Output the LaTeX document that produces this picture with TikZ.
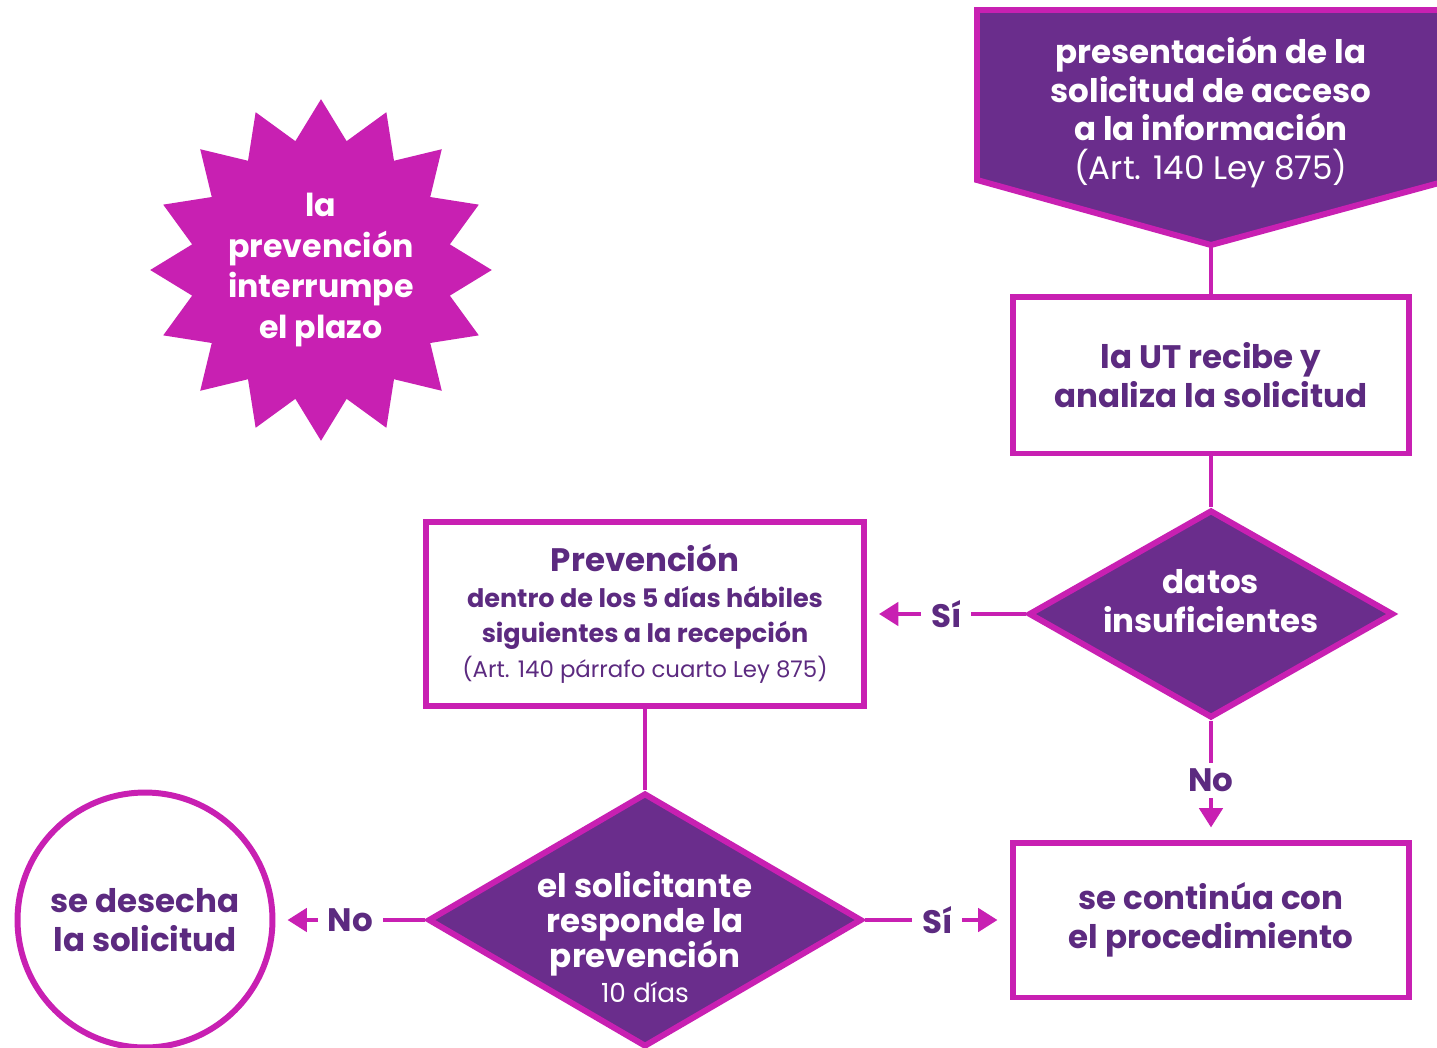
\documentclass[tikz,border=0pt]{standalone}
\usepackage{fontspec}
\setmainfont{Poppins}
\usetikzlibrary{shapes.geometric,arrows.meta,positioning}

\definecolor{flowMagenta}{RGB}{200,32,178}
\definecolor{flowPurple}{RGB}{106,45,140}
\definecolor{flowText}{RGB}{92,42,128}

\newcommand{\bigtxt}{\bfseries\fontsize{18.5}{22}\selectfont}
\newcommand{\midtxt}{\bfseries\fontsize{14.5}{19}\selectfont}
\newcommand{\smalltxt}{\mdseries\fontsize{13}{18}\selectfont}

\tikzset{
  box/.style={rectangle, draw=flowMagenta, line width=3.4pt, fill=white,
    text=flowText, font=\bigtxt, align=center, inner sep=0pt},
  decision/.style={diamond, draw=flowMagenta, line width=3.4pt, fill=flowPurple, inner sep=0pt},
  decisiontext/.style={text=white, font=\bigtxt, align=center, inner sep=0pt},
  conn/.style={draw=flowMagenta, line width=2.8pt},
  arrow/.style={conn, -{Triangle[length=11pt,width=13pt]}, shorten >=0.24cm},
  answer/.style={fill=white, text=flowText, font=\bigtxt, inner xsep=0.2cm, inner ysep=0.12cm}
}

\begin{document}
\begin{tikzpicture}[x=0.02cm, y=-0.02cm]
\useasboundingbox (0,0) rectangle (1437,1048);

% start
\draw[fill=flowPurple, draw=flowMagenta, line width=3.4pt]
  (977,10) -- (1450,10) -- (1450,180) -- (1211,245) -- (977,180) -- cycle;
\node[text=white, font=\bigtxt, align=center] (pres) at (1211,112)
  {presentación de la\\solicitud de acceso\\a la información\\{\mdseries (Art. 140 Ley 875)}};
\coordinate (presTip) at (1211,245);

% star
\node[star, star points=16, star point ratio=1.3, minimum size=6.8cm, inner sep=0pt,
  fill=flowMagenta, text=white, font=\bfseries\fontsize{18}{23}\selectfont, align=center] (plazo) at (321,270)
  {la\\prevención\\interrumpe\\el plazo};

% flow
\node[box, minimum width=7.94cm, minimum height=3.14cm] (ut) at (1211,375)
  {la UT recibe y\\analiza la solicitud};
\node[decision, minimum width=7.3cm, minimum height=4.16cm] (datos) at (1211,614) {};
\node[decisiontext] (datosTxt) at (1211,601) {datos\\insuficientes};
\node[box, minimum width=8.76cm, minimum height=3.68cm] (prev) at (645,614)
  {Prevención\\[-2pt]{\midtxt dentro de los 5 días hábiles}\\[-2pt]{\midtxt siguientes a la recepción}\\[-2pt]{\smalltxt (Art. 140 párrafo cuarto Ley 875)}};
\node[decision, minimum width=8.68cm, minimum height=5.08cm] (responde) at (645,920) {};
\node[decisiontext] (respondeTxt) at (645,937)
  {el solicitante\\[-2pt]responde la\\[-2pt]prevención\\[-2pt]{\mdseries\fontsize{15}{18}\selectfont 10 días}};
\node[circle, draw=flowMagenta, line width=3.4pt, minimum size=5.1cm, inner sep=0pt,
  text=flowText, font=\bigtxt, align=center] (desecha) at (145,920)
  {se desecha\\la solicitud};
\node[box, minimum width=7.94cm, minimum height=3.1cm] (continua) at (1211,920)
  {se continúa con\\el procedimiento};

% connectors
\draw[conn] (presTip) -- (ut);
\draw[conn] (ut) -- (datos);
\draw[arrow] (datos) -- node[answer] {Sí} (prev);
\draw[arrow] (datos) -- node[answer] {No} (continua);
\draw[conn] (prev) -- (responde);
\draw[arrow] (responde) -- node[answer] {No} (desecha);
\draw[arrow] (responde) -- node[answer] {Sí} (continua);
\end{tikzpicture}
\end{document}
